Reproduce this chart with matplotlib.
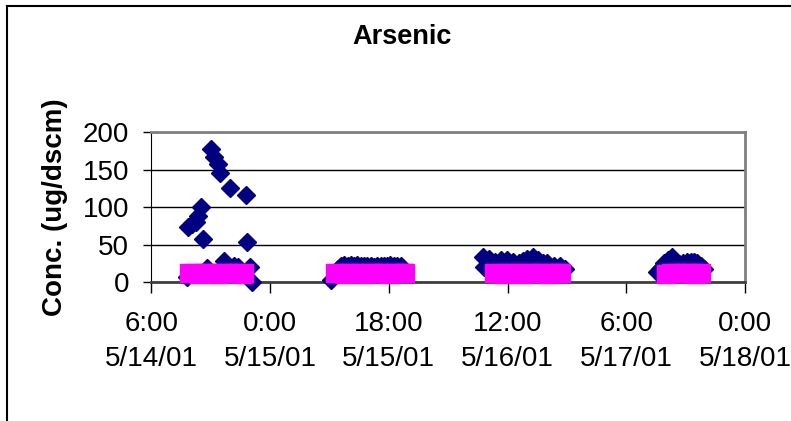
import pandas as pd
import matplotlib.pyplot as plt
from matplotlib.lines import Line2D

plt.rcParams['font.family'] = ['Liberation Sans', 'DejaVu Sans']

# Arsenic concentration readings (ug/dscm), navy diamonds
meas_time = [
    '2001-05-14 11:22', '2001-05-14 11:31', '2001-05-14 12:08', '2001-05-14 12:45',
    '2001-05-14 13:03', '2001-05-14 13:30', '2001-05-14 13:53', '2001-05-14 14:26',
    '2001-05-14 15:02', '2001-05-14 15:34', '2001-05-14 16:07', '2001-05-14 16:29',
    '2001-05-14 17:01', '2001-05-14 17:18', '2001-05-14 17:52', '2001-05-14 18:30',
    '2001-05-14 19:12', '2001-05-14 20:19', '2001-05-14 20:32', '2001-05-14 20:55',
    '2001-05-14 21:19',
    '2001-05-15 09:10', '2001-05-15 10:15', '2001-05-15 10:45', '2001-05-15 11:15',
    '2001-05-15 11:45', '2001-05-15 12:15', '2001-05-15 12:45', '2001-05-15 13:15',
    '2001-05-15 13:45', '2001-05-15 14:15', '2001-05-15 14:45', '2001-05-15 15:15',
    '2001-05-15 15:45', '2001-05-15 16:15', '2001-05-15 16:45', '2001-05-15 17:15',
    '2001-05-15 17:45', '2001-05-15 18:15', '2001-05-15 18:45', '2001-05-15 19:15',
    '2001-05-15 19:50',
    '2001-05-16 08:20', '2001-05-16 08:26', '2001-05-16 09:10', '2001-05-16 10:07',
    '2001-05-16 11:00', '2001-05-16 11:53', '2001-05-16 12:50', '2001-05-16 13:40',
    '2001-05-16 14:20', '2001-05-16 15:00', '2001-05-16 15:55', '2001-05-16 16:40',
    '2001-05-16 17:20', '2001-05-16 18:00', '2001-05-16 19:00', '2001-05-16 20:00',
    '2001-05-16 20:40',
    '2001-05-17 10:42', '2001-05-17 11:08', '2001-05-17 11:40', '2001-05-17 12:20',
    '2001-05-17 12:54', '2001-05-17 13:30', '2001-05-17 14:00', '2001-05-17 14:36',
    '2001-05-17 15:10', '2001-05-17 15:45', '2001-05-17 16:20', '2001-05-17 16:42',
    '2001-05-17 17:20', '2001-05-17 17:50',
]
meas_conc = [
    7, 74, 77, 80, 88, 100, 57, 19, 178, 167, 158, 146, 28, 24, 126, 22, 20, 116, 53, 20, 0,
    3, 18, 22, 23, 22, 23, 22, 23, 22, 21, 22, 21, 20, 21, 22, 21, 22, 23, 22, 22, 21,
    34, 20, 31, 27, 29, 30, 27, 25, 28, 31, 34, 29, 25, 25, 22, 21, 17,
    14, 17, 26, 30, 33, 27, 24, 26, 27, 27, 27, 26, 22, 18,
]

# second series, magenta squares
avg_time = [
    '2001-05-14 11:40', '2001-05-14 12:25', '2001-05-14 13:10', '2001-05-14 13:55',
    '2001-05-14 14:40', '2001-05-14 15:25', '2001-05-14 16:10', '2001-05-14 16:55',
    '2001-05-14 17:40', '2001-05-14 18:25', '2001-05-14 19:10', '2001-05-14 19:55',
    '2001-05-14 20:00',
    '2001-05-15 09:50', '2001-05-15 10:35', '2001-05-15 11:20', '2001-05-15 12:05',
    '2001-05-15 12:50', '2001-05-15 13:35', '2001-05-15 14:20', '2001-05-15 15:05',
    '2001-05-15 15:50', '2001-05-15 16:35', '2001-05-15 17:20', '2001-05-15 18:05',
    '2001-05-15 18:50', '2001-05-15 19:35', '2001-05-15 20:15', '2001-05-15 20:30',
    '2001-05-16 09:55', '2001-05-16 10:40', '2001-05-16 11:25', '2001-05-16 12:10',
    '2001-05-16 12:55', '2001-05-16 13:40', '2001-05-16 14:25', '2001-05-16 15:10',
    '2001-05-16 15:55', '2001-05-16 16:40', '2001-05-16 17:25', '2001-05-16 18:10',
    '2001-05-16 18:55', '2001-05-16 19:40', '2001-05-16 20:00', '2001-05-16 20:10',
    '2001-05-17 12:00', '2001-05-17 12:45', '2001-05-17 13:30', '2001-05-17 14:15',
    '2001-05-17 15:00', '2001-05-17 15:45', '2001-05-17 16:30', '2001-05-17 17:00',
    '2001-05-17 17:20',
]
avg_conc = [
    12, 12, 11, 12, 12, 12, 11, 12, 12, 12, 12, 11, 12,
    12, 12, 11, 12, 12, 12, 11, 12, 12, 12, 12, 11, 12, 12, 12, 12,
    12, 12, 11, 12, 12, 12, 11, 12, 12, 12, 12, 11, 12, 12, 12, 12,
    11, 12, 12, 12, 12, 12, 11, 12, 12,
]

tick_time = ['2001-05-14 06:00', '2001-05-15 00:00', '2001-05-15 18:00',
             '2001-05-16 12:00', '2001-05-17 06:00', '2001-05-18 00:00']
tick_labels = ['6:00\n5/14/01', '0:00\n5/15/01', '18:00\n5/15/01',
               '12:00\n5/16/01', '6:00\n5/17/01', '0:00\n5/18/01']
y_ticks = [0, 50, 100, 150, 200]

fig = plt.figure(figsize=(7.91, 4.21), dpi=100)
ax = fig.add_axes([151.3 / 791, 1 - 282 / 421, (745 - 151.3) / 791, (282 - 132.3) / 421])

ax.plot(pd.to_datetime(meas_time), meas_conc, ls='none', marker='D', ms=9,
        color='#000080', clip_on=False, zorder=3)
ax.plot(pd.to_datetime(avg_time), avg_conc, ls='none', marker='s', ms=13,
        color='#FF00FF', clip_on=False, zorder=4)

ticks = pd.to_datetime(tick_time)
ax.set_xlim(ticks[0], ticks[-1])
ax.set_xticks(ticks)
ax.set_xticklabels(tick_labels)
for lbl in ax.get_xticklabels():
    lbl.set_linespacing(1.45)
ax.set_ylim(0, 200)
ax.set_yticks(y_ticks)

ax.yaxis.grid(True, color='black', lw=1)
ax.set_axisbelow(True)
ax.spines['top'].set_color('#808080')
ax.spines['right'].set_color('#808080')
ax.spines['top'].set_linewidth(2)
ax.spines['right'].set_linewidth(2)
ax.spines['left'].set_color('black')
ax.spines['bottom'].set_color('#404040')
ax.spines['bottom'].set_linewidth(2)

ax.tick_params(axis='x', direction='out', length=8, width=1, labelsize=20, pad=13)
ax.tick_params(axis='y', direction='out', length=6, width=1, labelsize=20, pad=10)

fig.text(402 / 791, 1 - 37.5 / 421, 'Arsenic', ha='center', va='center',
         fontsize=19.5, fontweight='bold')
fig.text(55 / 791, 1 - 207.5 / 421, 'Conc. (ug/dscm)', ha='center', va='center',
         rotation=90, fontsize=20, fontweight='bold')

# outer chart border (only top and left edges fall inside the picture)
fig.add_artist(Line2D([7 / 791, 1], [1 - 6 / 421, 1 - 6 / 421],
                      transform=fig.transFigure, color='black', lw=1.5))
fig.add_artist(Line2D([7 / 791, 7 / 791], [0, 1 - 6 / 421],
                      transform=fig.transFigure, color='black', lw=1.5))

fig.savefig('out.png', dpi=100)
